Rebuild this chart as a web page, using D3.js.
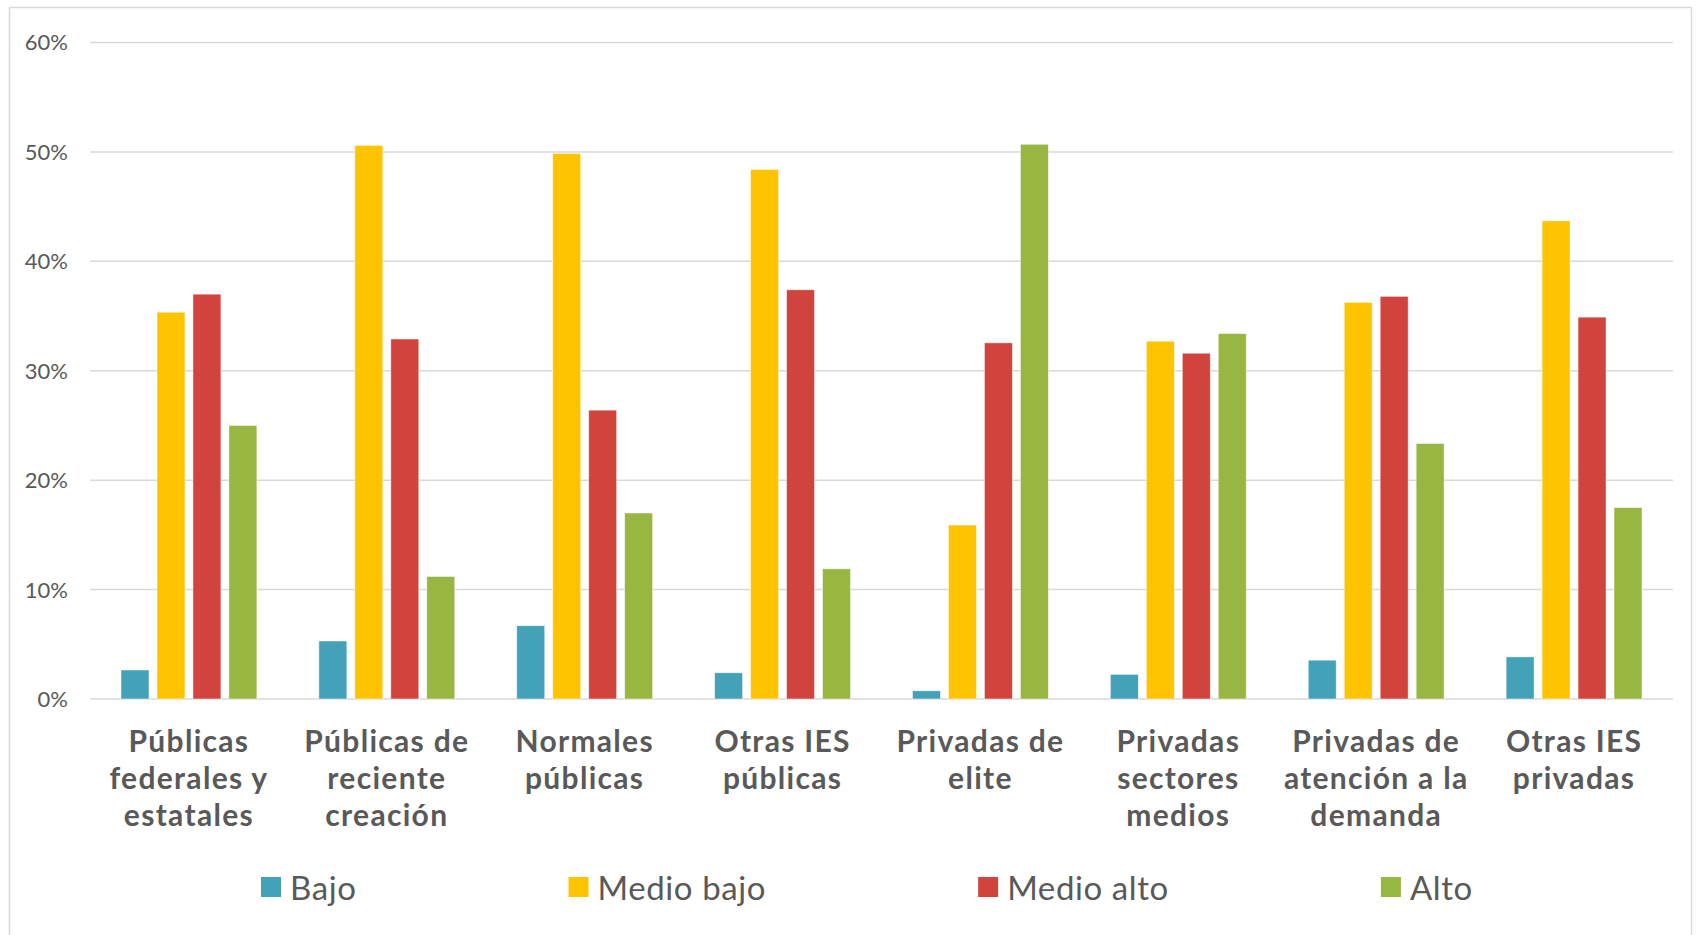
<!DOCTYPE html>
<html>
<head>
<meta charset="utf-8">
<script src="https://cdn.jsdelivr.net/npm/d3@7"></script>
<style>
  body { margin: 0; background: #fff; }
  svg text { font-family: Lato, "Open Sans", "DejaVu Sans", sans-serif; fill: #595959; }
</style>
</head>
<body>
<div id="chart"></div>
<script>
// categories, with the line breaks used in the axis labels
const categories = [
    'Públicas\nfederales y\nestatales',
    'Públicas de\nreciente\ncreación',
    'Normales\npúblicas',
    'Otras IES\npúblicas',
    'Privadas de\nelite',
    'Privadas\nsectores\nmedios',
    'Privadas de\natención a la\ndemanda',
    'Otras IES\nprivadas'
];

const seriesNames = ['Bajo', 'Medio bajo', 'Medio alto', 'Alto'];
const seriesColors = ['#44a2b8', '#ffc300', '#d1443e', '#97b642'];

// percentages per category
const bajo      = [2.65, 5.3, 6.7, 2.4, 0.75, 2.25, 3.55, 3.85];
const medioBajo = [35.35, 50.6, 49.85, 48.4, 15.9, 32.7, 36.25, 43.7];
const medioAlto = [37.0, 32.9, 26.4, 37.4, 32.55, 31.6, 36.8, 34.9];
const alto      = [25.0, 11.2, 17.0, 11.9, 50.7, 33.4, 23.35, 17.5];

const yTicks = [0, 10, 20, 30, 40, 50, 60];

const seriesValues = [bajo, medioBajo, medioAlto, alto];

const W = 1700, H = 935;
const plot = { left: 90, right: 1673, top: 42.5, bottom: 699 };

const svg = d3.select('#chart').append('svg')
    .attr('width', W)
    .attr('height', H);

// outer chart border
svg.append('rect')
    .attr('x', 9.5).attr('y', 7.5)
    .attr('width', 1682).attr('height', 945)
    .attr('fill', '#fff')
    .attr('stroke', '#d9d9d9')
    .attr('stroke-width', 1.5);

const x0 = d3.scaleBand()
    .domain(d3.range(categories.length))
    .range([plot.left, plot.right])
    .paddingInner(0.273)
    .paddingOuter(0.1365);

const x1 = d3.scaleBand()
    .domain(d3.range(seriesNames.length))
    .range([0, x0.bandwidth()])
    .paddingInner(0.222)
    .paddingOuter(0.111);

const y = d3.scaleLinear()
    .domain([0, 60])
    .range([plot.bottom, plot.top]);

// gridlines
svg.append('g')
    .selectAll('line')
    .data(yTicks)
    .join('line')
    .attr('x1', plot.left)
    .attr('x2', plot.right)
    .attr('y1', d => y(d))
    .attr('y2', d => y(d))
    .attr('stroke', '#d9d9d9')
    .attr('stroke-width', 1.5);

// y labels
svg.append('g')
    .selectAll('text')
    .data(yTicks)
    .join('text')
    .attr('x', 68)
    .attr('y', d => y(d))
    .attr('dy', '0.36em')
    .attr('text-anchor', 'end')
    .style('font-size', '22px')
    .text(d => d + '%');

// bars
const groups = svg.append('g')
    .selectAll('g')
    .data(categories.map((c, i) => i))
    .join('g')
    .attr('transform', i => `translate(${x0(i)},0)`);

groups.selectAll('rect')
    .data(i => seriesValues.map((vals, s) => ({ s, v: vals[i] })))
    .join('rect')
    .attr('x', d => x1(d.s))
    .attr('width', x1.bandwidth())
    .attr('y', d => y(d.v))
    .attr('height', d => y(0) - y(d.v))
    .attr('fill', d => seriesColors[d.s])
    .attr('stroke', '#fff')
    .attr('stroke-width', 0.8)
    .attr('stroke-opacity', 0.6);

// category labels
const catLabels = svg.append('g')
    .selectAll('text')
    .data(categories)
    .join('text')
    .attr('x', (d, i) => x0(i) + x0.bandwidth() / 2)
    .attr('y', 752)
    .attr('text-anchor', 'middle')
    .style('font-size', '30px')
    .style('font-weight', 'bold')
    .style('letter-spacing', '1.3px');

catLabels.selectAll('tspan')
    .data(d => d.split('\n'))
    .join('tspan')
    .attr('x', function () { return this.parentNode.getAttribute('x'); })
    .attr('dy', (d, i) => i === 0 ? 0 : 37)
    .text(d => d);

// legend
const legend = svg.append('g');
let lx = 261;
seriesNames.forEach((name, s) => {
    legend.append('rect')
        .attr('x', lx)
        .attr('y', 877)
        .attr('width', 20)
        .attr('height', 20)
        .attr('fill', seriesColors[s]);
    const t = legend.append('text')
        .attr('x', lx + 29)
        .attr('y', 900)
        .style('font-size', '33px')
        .style('letter-spacing', '0.6px')
        .text(name);
    lx += 29 + t.node().getComputedTextLength() + 212;
});
</script>
</body>
</html>
